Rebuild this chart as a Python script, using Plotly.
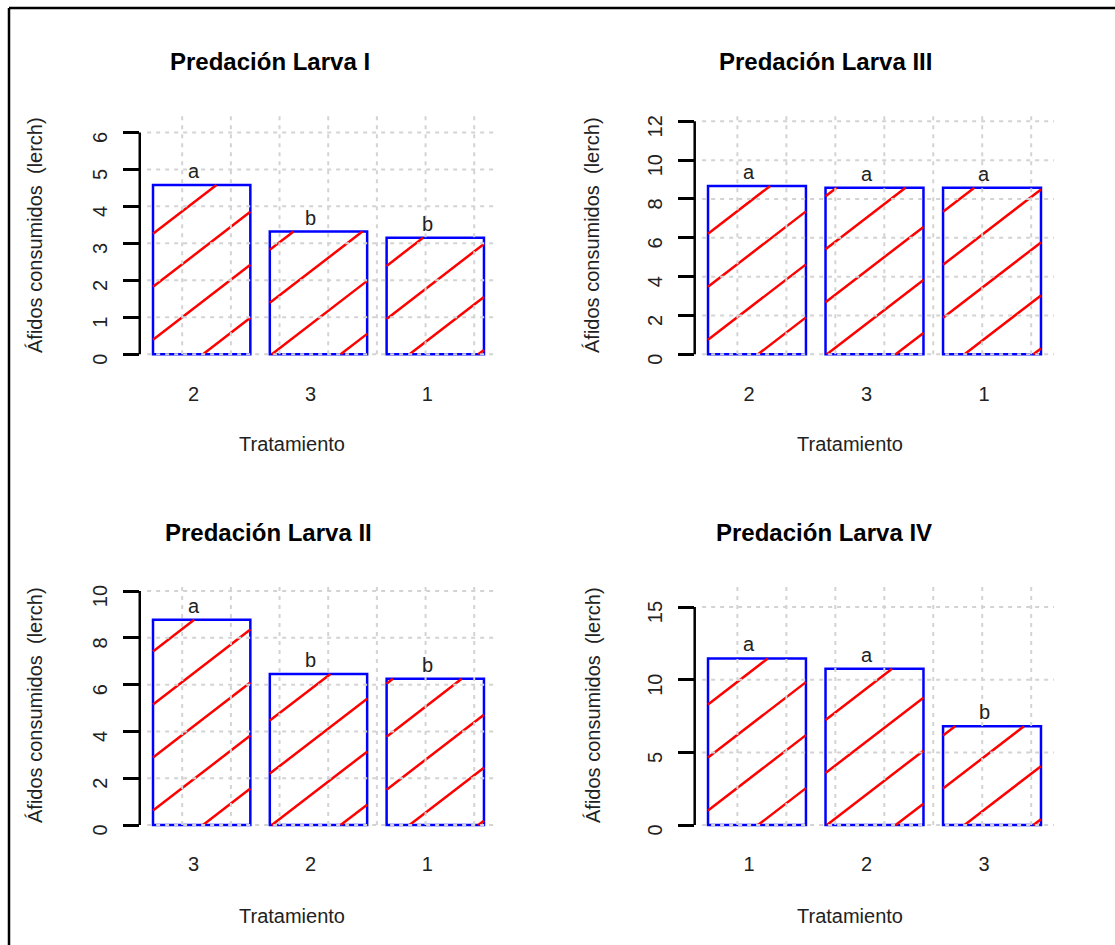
import math
import plotly.graph_objects as go

# ---------------- data ----------------
titles = ["Predación Larva I", "Predación Larva III", "Predación Larva II", "Predación Larva IV"]

cats_L1 = ["2", "3", "1"]
vals_L1 = [4.58, 3.32, 3.15]
letters_L1 = ["a", "b", "b"]

cats_L3 = ["2", "3", "1"]
vals_L3 = [8.67, 8.58, 8.58]
letters_L3 = ["a", "a", "a"]

cats_L2 = ["3", "2", "1"]
vals_L2 = [8.77, 6.46, 6.25]
letters_L2 = ["a", "b", "b"]

cats_L4 = ["1", "2", "3"]
vals_L4 = [11.46, 10.75, 6.80]
letters_L4 = ["a", "a", "b"]

yticks_L1 = [0, 1, 2, 3, 4, 5, 6]
yticks_L3 = [0, 2, 4, 6, 8, 10, 12]
yticks_L2 = [0, 2, 4, 6, 8, 10]
yticks_L4 = [0, 5, 10, 15]

ylim_L1 = 6.3
ylim_L3 = 12
ylim_L2 = 10
ylim_L4 = 16.1

y_title = "Áfidos consumidos \u00a0(lerch)"
x_title = "Tratamiento"

# ---------------- layout geometry (pixels) ----------------
W, H = 1115, 945
FONT = "Liberation Sans, Arial, sans-serif"
TXT = "#222222"

def fx(px):
    return px / W

def fy(py):
    return 1 - py / H

panels = [
    dict(title=titles[0], cats=cats_L1, vals=vals_L1, letters=letters_L1, yt=yticks_L1, ylim=ylim_L1,
         box=(139.76, 497.2, 112.0, 363.6), title_xy=(270, 61.5), xt_xy=(291.7, 444.5), yt_xy=(35, 235)),
    dict(title=titles[1], cats=cats_L3, vals=vals_L3, letters=letters_L3, yt=yticks_L3, ylim=ylim_L3,
         box=(694.7, 1054.3, 112.0, 363.6), title_xy=(825, 61.5), xt_xy=(849.7, 444.5), yt_xy=(592, 235)),
    dict(title=titles[2], cats=cats_L2, vals=vals_L2, letters=letters_L2, yt=yticks_L2, ylim=ylim_L2,
         box=(139.76, 497.2, 581.7, 834.4), title_xy=(268, 532), xt_xy=(291.7, 916), yt_xy=(35, 705)),
    dict(title=titles[3], cats=cats_L4, vals=vals_L4, letters=letters_L4, yt=yticks_L4, ylim=ylim_L4,
         box=(694.7, 1054.3, 581.7, 834.4), title_xy=(824, 532), xt_xy=(849.7, 916), yt_xy=(593, 705)),
]

XR = [0.064, 3.736]
BAR_W = 1.0
SPACE = 0.2

# hatch parameters (pixel space)
H_C0, H_SLOPE, H_SPACING = 14.5, 0.77, 53.0

fig = go.Figure()
shapes = []
annotations = []

for i, p in enumerate(panels):
    n = i + 1
    xa = "x" if n == 1 else f"x{n}"
    ya = "y" if n == 1 else f"y{n}"
    xl_px, xr_px, yt_px, yb_px = p["box"]
    Y = p["ylim"]
    yr = [-0.04 * Y, 1.04 * Y]
    sx = (xr_px - xl_px) / (XR[1] - XR[0])
    sy = (yb_px - yt_px) / (yr[1] - yr[0])

    centers = [SPACE + BAR_W / 2 + k * (BAR_W + SPACE) for k in range(len(p["vals"]))]

    # white bar fill
    fig.add_trace(go.Bar(x=centers, y=p["vals"], width=BAR_W, xaxis=xa, yaxis=ya,
                         marker=dict(color="white", line=dict(width=0)), showlegend=False,
                         hoverinfo="skip"))

    # hatch lines
    hx, hy = [], []
    x0_ref = SPACE
    for c, v in zip(centers, p["vals"]):
        bl = c - BAR_W / 2
        Xl = (bl - x0_ref) * sx
        Xr = Xl + BAR_W * sx
        Hh = v * sy
        kmin = math.ceil((-H_SLOPE * Xr - H_C0) / H_SPACING)
        kmax = math.floor((Hh - H_SLOPE * Xl - H_C0) / H_SPACING)
        for k in range(kmin, kmax + 1):
            a = H_C0 + H_SPACING * k
            xa_ = max(Xl, (0 - a) / H_SLOPE)
            xb_ = min(Xr, (Hh - a) / H_SLOPE)
            if xb_ - xa_ > 0.5:
                for X in (xa_, xb_):
                    hx.append(x0_ref + X / sx)
                    hy.append((a + H_SLOPE * X) / sy)
                hx.append(None)
                hy.append(None)
    fig.add_trace(go.Scatter(x=hx, y=hy, mode="lines", xaxis=xa, yaxis=ya,
                             line=dict(color="#ff0000", width=2.5), showlegend=False,
                             hoverinfo="skip"))

    # blue outline on top
    fig.add_trace(go.Bar(x=centers, y=p["vals"], width=BAR_W, xaxis=xa, yaxis=ya,
                         marker=dict(color="rgba(0,0,0,0)", line=dict(color="#0000ff", width=2.5)),
                         showlegend=False, hoverinfo="skip"))

    # axes
    fig.update_layout(**{
        ("xaxis" if n == 1 else f"xaxis{n}"): dict(
            domain=[fx(xl_px), fx(xr_px)], range=XR, anchor=ya, automargin=False,
            showgrid=False, zeroline=False, showline=False,
            tickvals=centers, ticktext=p["cats"], ticks="",
            tickfont=dict(family=FONT, size=20, color=TXT),
            ticklabelstandoff=16, ticklabelshift=-8, fixedrange=True),
        ("yaxis" if n == 1 else f"yaxis{n}"): dict(
            domain=[fy(yb_px), fy(yt_px)], range=yr, anchor=xa, automargin=False,
            showgrid=False, zeroline=False, showline=False,
            tickvals=p["yt"], ticktext=[str(t) for t in p["yt"]],
            ticks="outside", ticklen=16, tickwidth=2.5, tickcolor="black",
            tickangle=-90, tickfont=dict(family=FONT, size=20, color=TXT),
            ticklabelstandoff=8, ticklabelshift=8, fixedrange=True),
    })

    # y axis line (only from 0 to last tick)
    shapes.append(dict(type="line", xref=f"{xa} domain", yref=ya, x0=0, x1=0,
                       y0=p["yt"][0], y1=p["yt"][-1], line=dict(color="black", width=2.5)))

    # grid (dotted, drawn above bars)
    gdash = "4px,5px"
    for t in p["yt"]:
        shapes.append(dict(type="line", xref=xa, yref=ya, x0=0.14, x1=XR[1], y0=t, y1=t,
                           line=dict(color="#d3d3d3", width=2, dash=gdash), layer="above"))
    gx = 0.5
    while gx <= 3.5 + 1e-9:
        shapes.append(dict(type="line", xref=xa, yref=ya, x0=gx, x1=gx, y0=0, y1=yr[1],
                           line=dict(color="#d3d3d3", width=2, dash=gdash), layer="above"))
        gx += 0.5

    # significance letters
    for c, v, L in zip(centers, p["vals"], p["letters"]):
        annotations.append(dict(x=c, y=v, xref=xa, yref=ya, text=L, showarrow=False,
                                yanchor="bottom", xanchor="center", yshift=1, xshift=-8,
                                font=dict(family=FONT, size=20, color=TXT)))

    # titles
    tx, ty = p["title_xy"]
    annotations.append(dict(x=fx(tx), y=fy(ty), xref="paper", yref="paper", text=f"<b>{p['title']}</b>",
                            showarrow=False, xanchor="center", yanchor="middle",
                            font=dict(family=FONT, size=24, color="black")))
    ax_, ay_ = p["xt_xy"]
    annotations.append(dict(x=fx(ax_), y=fy(ay_), xref="paper", yref="paper", text=x_title,
                            showarrow=False, xanchor="center", yanchor="middle",
                            font=dict(family=FONT, size=20, color=TXT)))
    bx_, by_ = p["yt_xy"]
    annotations.append(dict(x=fx(bx_), y=fy(by_), xref="paper", yref="paper", text=y_title,
                            showarrow=False, xanchor="center", yanchor="middle", textangle=-90,
                            font=dict(family=FONT, size=20, color=TXT)))

# outer frame (top and left edges)
shapes.append(dict(type="line", xref="paper", yref="paper", x0=fx(9), x1=fx(9), y0=0, y1=fy(8),
                   line=dict(color="black", width=2.5)))
shapes.append(dict(type="line", xref="paper", yref="paper", x0=fx(9), x1=1, y0=fy(8), y1=fy(8),
                   line=dict(color="black", width=2.5)))

fig.update_layout(width=W, height=H, margin=dict(l=0, r=0, t=0, b=0, pad=0, autoexpand=False),
                  paper_bgcolor="white", plot_bgcolor="white", barmode="overlay",
                  shapes=shapes, annotations=annotations, showlegend=False,
                  font=dict(family=FONT, color=TXT))

fig.write_html(
    "out.html",
    config={"displayModeBar": False},
    post_script="document.body.style.margin='0';document.body.style.padding='0';",
)
